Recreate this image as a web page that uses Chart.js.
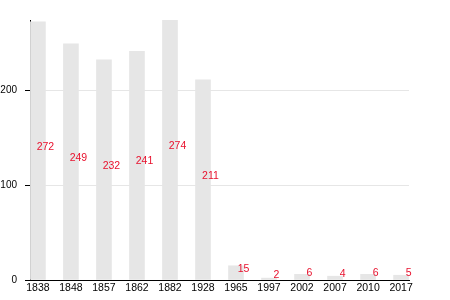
<!DOCTYPE html>
<html>
<head>
<meta charset="utf-8">
<script src="https://cdn.jsdelivr.net/npm/chart.js@4"></script>
<style>
  html, body { margin: 0; padding: 0; background: #fff; }
  #wrap { width: 450px; height: 300px; }
</style>
</head>
<body>
<div id="wrap"><canvas id="chart"></canvas></div>
<script>
const years = ['1838', '1848', '1857', '1862', '1882', '1928', '1965', '1997', '2002', '2007', '2010', '2017'];
const population = [272, 249, 232, 241, 274, 211, 15, 2, 6, 4, 6, 5];
const yTicks = [0, 100, 200];

const valueLabels = {
  id: 'valueLabels',
  afterDatasetsDraw(chart) {
    const ctx = chart.ctx;
    const meta = chart.getDatasetMeta(0);
    ctx.save();
    ctx.font = '10.5px "Liberation Sans", Arial, sans-serif';
    ctx.fillStyle = '#e8112d';
    ctx.textAlign = 'center';
    ctx.textBaseline = 'middle';
    meta.data.forEach((bar, i) => {
      const mid = (bar.y + bar.base) / 2;
      ctx.fillText(population[i], bar.x + 7.5, mid - 4);
    });
    ctx.restore();
  }
};

new Chart(document.getElementById('chart').getContext('2d'), {
  type: 'bar',
  data: {
    datasets: [{
      data: population.map((v, i) => ({ x: i, y: v })),
      backgroundColor: '#e6e6e6',
      borderWidth: 0,
      barThickness: 15
    }]
  },
  options: {
    responsive: true,
    maintainAspectRatio: false,
    animation: false,
    layout: { padding: { top: 20, right: 41, bottom: 0, left: 0 } },
    plugins: { legend: { display: false }, tooltip: { enabled: false } },
    scales: {
      x: {
        type: 'linear',
        offset: false,
        min: -0.24,
        max: 11.24,
        afterBuildTicks: (axis) => { axis.ticks = years.map((_, i) => ({ value: i })); },
        afterFit: (axis) => { axis.height = 20; },
        grid: { display: false, drawTicks: false, tickLength: 0 },
        border: { color: '#000', width: 1 },
        ticks: {
          autoSkip: false,
          maxRotation: 0,
          padding: 2,
          color: '#000',
          font: { family: '"Liberation Sans", Arial, sans-serif', size: 10.5 },
          callback: (v) => years[v]
        }
      },
      y: {
        min: 0,
        max: 274,
        afterBuildTicks: (axis) => { axis.ticks = yTicks.map(v => ({ value: v })); },
        afterFit: (axis) => { axis.width = 30; },
        grid: { color: '#e6e6e6', tickColor: '#000', tickLength: 5 },
        border: { color: '#000', width: 1 },
        ticks: {
          padding: 8,
          color: '#000',
          font: { family: '"Liberation Sans", Arial, sans-serif', size: 10 }
        }
      }
    }
  },
  plugins: [valueLabels]
});
</script>
</body>
</html>
